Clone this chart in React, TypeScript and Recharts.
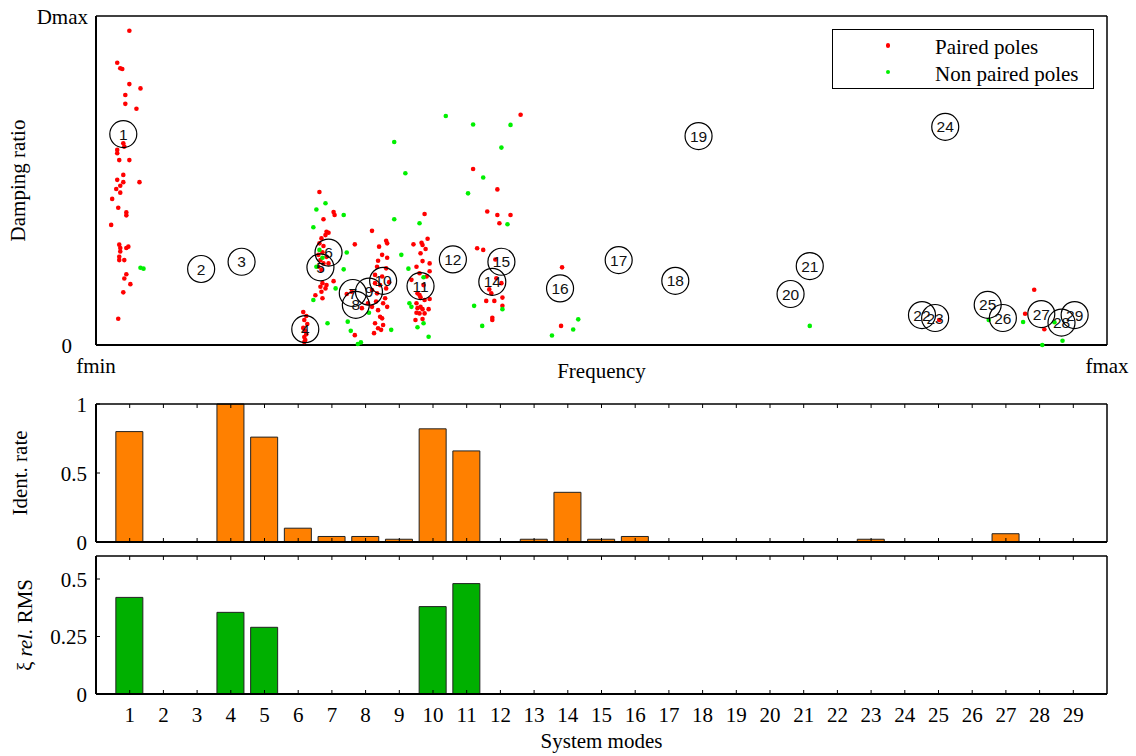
import React from 'react';
import { ScatterChart, Scatter, BarChart, Bar, XAxis, YAxis, Legend } from 'recharts';

const SERIF = '"Liberation Serif", "Times New Roman", serif';
const SANS = '"Liberation Sans", Arial, sans-serif';

// poles as [frequency, damping], both in % of the plotted range (fmin..fmax, 0..Dmax)
const pairedPoles: [number, number][] = [
  [3.3, 95.5], [2.1, 85.8], [2.4, 84.1], [2.6, 83.9], [3.3, 79.3], [4.4, 78.0], [2.9, 76.0], [2.9, 73.3],
  [4.0, 71.8], [2.7, 61.3], [2.8, 60.3], [2.1, 59.3], [2.1, 58.3], [2.3, 56.2], [3.3, 56.2], [2.7, 51.7],
  [4.3, 49.5], [2.1, 50.2], [2.7, 49.5], [2.4, 48.4], [2.0, 47.4], [2.4, 46.3], [1.6, 44.4], [2.2, 41.7],
  [3.0, 40.3], [3.0, 39.4], [1.5, 36.5], [2.3, 30.5], [2.4, 29.5], [3.2, 29.9], [3.0, 29.5], [2.4, 28.4],
  [2.3, 26.8], [2.8, 25.8], [2.3, 25.8], [3.0, 21.5], [2.8, 20.2], [3.4, 18.5], [2.7, 16.0], [2.2, 8.0],
  [20.5, 10.0], [20.8, 8.8], [20.6, 7.6], [20.9, 6.4], [20.5, 5.2], [20.7, 4.3], [20.8, 3.3], [20.6, 2.4],
  [20.7, 1.5], [20.6, 0.9],
  [22.1, 46.5], [23.5, 40.4], [23.6, 39.5], [22.5, 38.2], [22.8, 34.4], [22.7, 33.4], [23.0, 34.1], [22.3, 32.4],
  [22.1, 30.9], [22.5, 30.1], [22.4, 28.2], [22.0, 27.4], [22.8, 26.8], [22.2, 25.8], [22.5, 24.8], [23.0, 24.8],
  [22.0, 23.8], [22.3, 22.8], [23.5, 19.4], [22.4, 18.8], [22.2, 17.7], [22.7, 17.2], [22.8, 18.2], [22.3, 16.2],
  [21.7, 15.1], [22.4, 14.2], [25.6, 30.6], [27.3, 34.7],
  [28.7, 31.7], [28.8, 30.9], [28.0, 29.9], [28.3, 27.4], [28.8, 26.5], [27.9, 25.6], [28.7, 23.3], [27.8, 23.8],
  [28.3, 20.8], [27.6, 18.8], [28.1, 18.2], [28.7, 17.2], [27.8, 15.7], [28.6, 14.2], [27.7, 13.2], [28.4, 12.7],
  [28.8, 11.6], [27.3, 11.6], [27.9, 10.6], [26.3, 11.2], [28.1, 8.6], [28.3, 8.1], [27.6, 6.6], [28.4, 6.1],
  [27.9, 5.1], [27.5, 3.6], [28.2, 4.6], [25.6, 3.0], [26.9, 12.7], [24.8, 15.5], [25.3, 16.2], [27.6, 21.3],
  [29.0, 19.1], [27.3, 16.7],
  [32.5, 39.8], [32.8, 32.3], [31.4, 30.6], [32.2, 31.1], [32.3, 30.4], [32.6, 29.2], [32.1, 27.9], [32.3, 25.5],
  [33.0, 24.8], [33.0, 22.4], [32.0, 21.8], [31.2, 19.8], [31.7, 23.8], [32.7, 20.8], [32.4, 18.2], [31.8, 15.7],
  [32.0, 15.2], [32.1, 14.5], [33.0, 14.0], [32.5, 13.7], [31.7, 12.7], [32.1, 11.6], [31.8, 11.2], [32.3, 10.9],
  [32.9, 10.9], [32.0, 9.6], [32.5, 9.6], [31.6, 7.6], [32.3, 7.9], [31.7, 9.8],
  [42.0, 70.0], [37.3, 53.5], [39.7, 47.3], [38.7, 40.6], [39.7, 39.5], [41.0, 39.5], [39.9, 37.0], [37.7, 29.4],
  [38.3, 28.9], [39.5, 26.0], [39.6, 20.3], [40.1, 18.8], [38.9, 16.9], [39.1, 15.7], [38.6, 13.4], [39.4, 13.4],
  [40.2, 14.4], [40.2, 11.9], [39.2, 8.3], [39.2, 7.6],
  [46.1, 23.6], [46.0, 5.8],
  [92.8, 16.8], [91.9, 9.5], [93.8, 4.8], [83.4, 7.6],
];

const nonPairedPoles: [number, number][] = [
  [4.4, 23.5], [4.7, 23.2],
  [30.6, 52.2], [22.7, 43.1], [21.8, 41.2], [24.5, 39.5], [21.5, 35.8], [29.5, 38.2], [32.0, 37.0], [24.8, 28.1],
  [22.1, 28.9], [22.4, 26.5], [24.5, 23.0], [21.8, 23.8], [30.9, 23.2], [23.7, 17.2], [21.5, 13.7], [22.9, 6.6],
  [25.2, 4.3], [27.0, 9.8], [25.9, 0.3], [26.2, 0.8], [30.2, 27.4], [31.0, 12.7], [31.2, 11.6], [32.4, 20.6],
  [32.4, 6.6], [31.8, 5.4], [32.9, 2.5], [29.2, 4.6], [24.9, 7.1], [29.5, 61.7],
  [34.6, 69.6], [37.3, 67.0], [41.0, 66.9], [40.1, 60.0], [38.3, 50.9], [36.8, 46.1], [40.7, 36.7], [37.4, 11.9],
  [38.2, 5.8], [40.2, 10.9],
  [47.7, 7.8], [47.2, 4.7], [45.1, 2.9],
  [70.6, 5.8],
  [88.3, 7.6], [91.7, 7.0], [94.8, 6.9], [93.6, 0.0], [95.6, 1.3],
];

// system modes marked on the stabilisation plot (mode 13 does not show)
const modeIds = [1, 2, 3, 4, 5, 6, 7, 8, 9, 10, 11, 12, 14, 15, 16, 17, 18, 19, 20, 21, 22, 23, 24, 25, 26, 27, 28, 29];
const modeFreq = [2.7, 10.4, 14.4, 20.7, 22.2, 23.0, 25.4, 25.7, 27.0, 28.4, 32.1, 35.3, 39.2, 40.1, 45.9, 51.7, 57.3, 59.6, 68.7, 70.6, 81.7, 83.0, 84.0, 88.2, 89.7, 93.5, 95.5, 96.8];
const modeDamp = [64.1, 23.1, 25.3, 4.8, 23.6, 28.1, 15.8, 12.2, 16.2, 19.5, 17.9, 26.0, 19.2, 25.3, 17.2, 25.8, 19.5, 63.5, 15.5, 24.0, 9.1, 8.2, 66.3, 12.2, 8.2, 9.4, 6.8, 9.1];

// per-mode statistics
const systemModes = [1, 2, 3, 4, 5, 6, 7, 8, 9, 10, 11, 12, 13, 14, 15, 16, 17, 18, 19, 20, 21, 22, 23, 24, 25, 26, 27, 28, 29];
const identRate = [0.8, 0, 0, 1.0, 0.76, 0.1, 0.04, 0.04, 0.02, 0.82, 0.66, 0, 0.02, 0.36, 0.02, 0.04, 0, 0, 0, 0, 0, 0, 0.02, 0, 0, 0, 0.06, 0, 0];
const rmsError = [0.42, 0, 0, 0.355, 0.29, 0, 0, 0, 0, 0.38, 0.48, 0, 0, 0, 0, 0, 0, 0, 0, 0, 0, 0, 0, 0, 0, 0, 0, 0, 0];

const identTicks = [0, 0.5, 1];
const rmsTicks = [0, 0.25, 0.5];

const legendItems = [
  { label: 'Paired poles', color: '#ff0000' },
  { label: 'Non paired poles', color: '#00f000' },
];

const pairedData = pairedPoles.map(([f, d]) => ({ f, d }));
const nonPairedData = nonPairedPoles.map(([f, d]) => ({ f, d }));
const modeData = modeIds.map((id, i) => ({ id, f: modeFreq[i], d: modeDamp[i] }));
const statsData = systemModes.map((mode, i) => ({ mode, ident: identRate[i], rms: rmsError[i] }));

const frame = { stroke: '#000', strokeWidth: 1.5 };
const frameBold = { stroke: '#000', strokeWidth: 2 };
const TICK = 4;

const redDot = (p: any) => <circle cx={p.cx} cy={p.cy} r={2.3} fill="#ff0000" />;
const greenDot = (p: any) => <circle cx={p.cx} cy={p.cy} r={2.3} fill="#00f000" />;
const modeMarker = (p: any) => (
  <g>
    <circle cx={p.cx} cy={p.cy} r={13.5} fill="none" stroke="#000" strokeWidth={1.2} />
    <text x={p.cx} y={p.cy} dy="0.36em" textAnchor="middle" fontFamily={SANS} fontSize={15.5} fill="#111">
      {p.payload?.id ?? p.id}
    </text>
  </g>
);

function FreqTick({ x, y, payload }: any) {
  return (
    <text x={x} y={y + 28} textAnchor="middle" fontFamily={SERIF} fontSize={21} fill="#000">
      {payload.value === 0 ? 'fmin' : 'fmax'}
    </text>
  );
}

function DampTick({ x, y, payload }: any) {
  const top = payload.value !== 0;
  return (
    <text x={top ? x - 8 : x - 24} y={y} dy="0.38em" textAnchor="end" fontFamily={SERIF} fontSize={21} fill="#000">
      {top ? 'Dmax' : '0'}
    </text>
  );
}

// inward ticks: with tickSize/tickMargin 0 the tick gets the axis-line position
function BottomTick({ x, y, payload, showLabel }: any) {
  return (
    <g>
      <line x1={x} y1={y} x2={x} y2={y - TICK} stroke="#000" strokeWidth={1} />
      {showLabel && (
        <text x={x} y={y + 13} dy="0.71em" textAnchor="middle" fontFamily={SERIF} fontSize={21} fill="#000">
          {payload.value}
        </text>
      )}
    </g>
  );
}

function TopTick({ x, y }: any) {
  return <line x1={x} y1={y} x2={x} y2={y + TICK} stroke="#000" strokeWidth={1} />;
}

function LeftTick({ x, y, payload }: any) {
  return (
    <g>
      <line x1={x} y1={y} x2={x + TICK} y2={y} stroke="#000" strokeWidth={1} />
      <text x={x - 9} y={y} dy="0.36em" textAnchor="end" fontFamily={SERIF} fontSize={21} fill="#000">
        {payload.value}
      </text>
    </g>
  );
}

function RightTick({ x, y }: any) {
  return <line x1={x} y1={y} x2={x - TICK} y2={y} stroke="#000" strokeWidth={1} />;
}

function HTitle({ px, py, caption }: any) {
  return (
    <text x={px} y={py} textAnchor="middle" fontFamily={SERIF} fontSize={21} fill="#000">
      {caption}
    </text>
  );
}

function VTitle({ px, py, parts }: any) {
  return (
    <text x={px} y={py} transform={`rotate(-90 ${px} ${py})`} textAnchor="middle" fontFamily={SERIF} fontSize={21} fill="#000">
      {parts.map((part: any, i: number) => (
        <tspan key={i} fontStyle={part.italic ? 'italic' : 'normal'}>{part.t}</tspan>
      ))}
    </text>
  );
}

function PoleLegend() {
  return (
    <div style={{ width: 262, height: 60, boxSizing: 'border-box', border: '1.5px solid #000', background: '#fff', position: 'relative', fontFamily: SERIF, fontSize: 21, color: '#000' }}>
      {legendItems.map((item, i) => (
        <div key={item.label} style={{ position: 'absolute', left: 0, top: i === 0 ? 4 : 30.6, height: 26, lineHeight: '26px', width: '100%' }}>
          <span style={{ position: 'absolute', left: 52.5, top: 9, width: 4.5, height: 4.5, borderRadius: '50%', background: item.color }} />
          <span style={{ position: 'absolute', left: 102, top: 0, whiteSpace: 'nowrap' }}>{item.label}</span>
        </div>
      ))}
    </div>
  );
}

const modeAxisProps = {
  type: 'number' as const,
  dataKey: 'mode',
  domain: [0, 30],
  ticks: systemModes,
  interval: 0,
  tickLine: false,
  tickSize: 0,
  tickMargin: 0,
};

const place = (top: number): React.CSSProperties => ({ position: 'absolute', left: 0, top });

export default function App() {
  return (
    <div style={{ position: 'absolute', left: 0, top: 0, width: 1136, height: 756, background: '#fff', overflow: 'hidden' }}>
      <div style={place(0)}>
        <ScatterChart width={1136} height={390} margin={{ top: 15, right: 28, bottom: 0, left: 0 }}>
          <XAxis type="number" dataKey="f" domain={[0, 100]} ticks={[0, 100]} interval={0} height={45} axisLine={frameBold}
            tickLine={false} tickSize={0} tickMargin={0} tick={<FreqTick />}
            label={<HTitle px={601.5} py={378} caption="Frequency" />} />
          <XAxis xAxisId="top" orientation="top" type="number" domain={[0, 100]} height={1} axisLine={frame}
            tickLine={false} tick={false} />
          <YAxis type="number" dataKey="d" domain={[0, 100]} ticks={[0, 100]} interval={0} width={96} axisLine={frameBold}
            tickLine={false} tickSize={0} tickMargin={0} tick={<DampTick />}
            label={<VTitle px={25} py={180.5} parts={[{ t: 'Damping ratio' }]} />} />
          <YAxis yAxisId="right" orientation="right" type="number" domain={[0, 100]} width={1} axisLine={frame}
            tickLine={false} tick={false} />
          <Legend layout="vertical" align="center" verticalAlign="middle"
            wrapperStyle={{ left: 832, top: 29, width: 262, height: 60 }} content={() => <PoleLegend />} />
          <Scatter name="Paired poles" data={pairedData} shape={redDot} isAnimationActive={false} />
          <Scatter name="Non paired poles" data={nonPairedData} shape={greenDot} isAnimationActive={false} />
          <Scatter name="Modes" data={modeData} shape={modeMarker} legendType="none" isAnimationActive={false} />
        </ScatterChart>
      </div>

      <div style={place(390)}>
        <BarChart width={1136} height={166} data={statsData} margin={{ top: 13, right: 28, bottom: 0, left: 0 }}>
          <XAxis {...modeAxisProps} height={14} axisLine={frameBold} tick={<BottomTick showLabel={false} />} />
          <XAxis {...modeAxisProps} xAxisId="top" orientation="top" height={1} axisLine={frame} tick={<TopTick />} />
          <YAxis type="number" domain={[0, 1]} ticks={identTicks} interval={0} width={96} axisLine={frameBold}
            tickLine={false} tickSize={0} tickMargin={0} tick={<LeftTick />}
            label={<VTitle px={27} py={83} parts={[{ t: 'Ident. rate' }]} />} />
          <YAxis yAxisId="right" orientation="right" type="number" domain={[0, 1]} ticks={identTicks} interval={0} width={1}
            axisLine={frame} tickLine={false} tickSize={0} tickMargin={0} tick={<RightTick />} />
          <Bar dataKey="ident" fill="#ff8000" stroke="#222" strokeWidth={1} barSize={27} isAnimationActive={false} />
        </BarChart>
      </div>

      <div style={place(548)}>
        <BarChart width={1136} height={208} data={statsData} margin={{ top: 7, right: 28, bottom: 0, left: 0 }}>
          <XAxis {...modeAxisProps} height={62} axisLine={frameBold} tick={<BottomTick showLabel />}
            label={<HTitle px={601.5} py={200} caption="System modes" />} />
          <XAxis {...modeAxisProps} xAxisId="top" orientation="top" height={1} axisLine={frame} tick={<TopTick />} />
          <YAxis type="number" domain={[0, 0.6]} ticks={rmsTicks} interval={0} width={96} axisLine={frameBold}
            tickLine={false} tickSize={0} tickMargin={0} tick={<LeftTick />}
            label={<VTitle px={32} py={77} parts={[{ t: 'ξ ' }, { t: 'rel.', italic: true }, { t: ' RMS' }]} />} />
          <YAxis yAxisId="right" orientation="right" type="number" domain={[0, 0.6]} ticks={rmsTicks} interval={0} width={1}
            axisLine={frame} tickLine={false} tickSize={0} tickMargin={0} tick={<RightTick />} />
          <Bar dataKey="rms" fill="#00b000" stroke="#222" strokeWidth={1} barSize={27} isAnimationActive={false} />
        </BarChart>
      </div>
    </div>
  );
}
